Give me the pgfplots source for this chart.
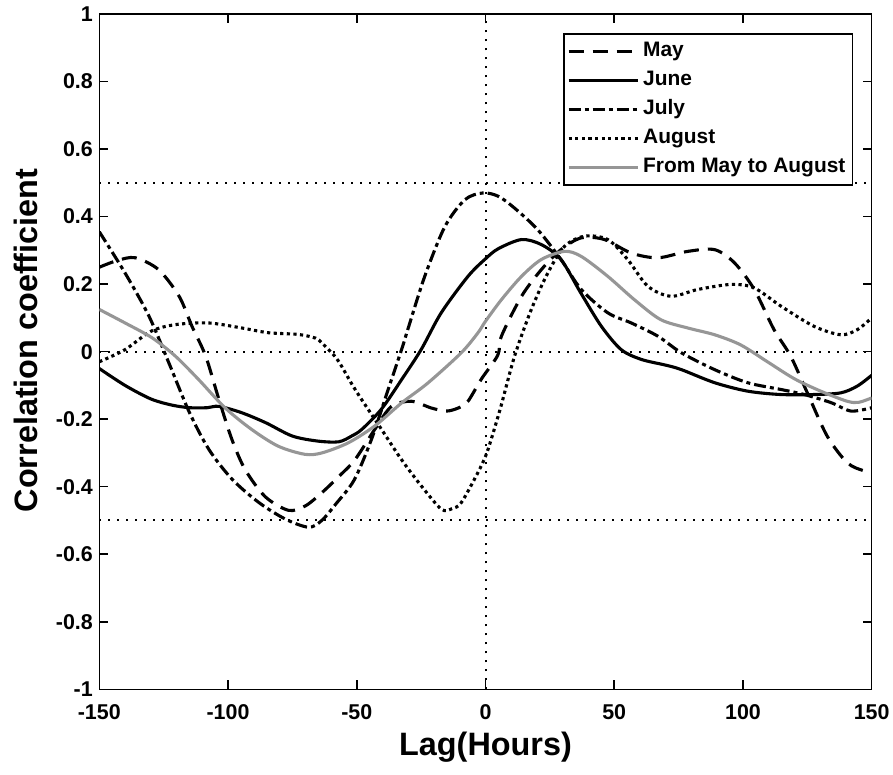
\documentclass[border=0pt]{standalone}
\usepackage{fontspec}
\setmainfont{Liberation Sans}
\usepackage{pgfplots}
\pgfplotsset{compat=1.18}
\definecolor{graycurve}{RGB}{150,150,150}

\pgfplotstableread{
x y
-150 0.25
-143 0.27
-136 0.278
-127 0.243
-119 0.164
-114 0.075
-108.7 -0.013
-103.6 -0.14
-98.5 -0.26
-93.3 -0.35
-85.5 -0.43
-76.5 -0.47
-70 -0.457
-63.6 -0.418
-57 -0.37
-50.7 -0.32
-43 -0.23
-36.5 -0.162
-28.8 -0.147
-21 -0.167
-15 -0.176
-10 -0.165
-6.8 -0.147
-1.5 -0.08
4.8 -0.01
6.2 0.046
14 0.164
21.7 0.243
29.3 0.302
37.2 0.337
46.2 0.332
56.6 0.292
67 0.278
78.6 0.297
89 0.302
96.7 0.263
104.4 0.184
112 0.066
118.5 -0.013
125 -0.122
132.7 -0.25
140.5 -0.329
147 -0.353
150 -0.355
}\maydata

\pgfplotstableread{
x y
-150 -0.05
-140 -0.10
-130 -0.14
-122 -0.158
-115 -0.166
-108 -0.166
-103.6 -0.162
-95 -0.18
-85.5 -0.21
-75 -0.25
-65 -0.265
-57 -0.267
-52 -0.25
-48 -0.23
-40.4 -0.17
-32.6 -0.083
-25 0.006
-17.2 0.115
-6.8 0.223
0 0.275
5 0.305
14 0.332
21.7 0.317
29.3 0.273
37 0.174
45 0.075
52.7 0.006
60.5 -0.023
70 -0.04
76 -0.053
89 -0.092
101.8 -0.117
114.7 -0.127
127.6 -0.127
138 -0.122
144.4 -0.102
150 -0.07
}\junedata

\pgfplotstableread{
x y
-150 0.355
-140 0.233
-130.7 0.105
-123 -0.033
-115 -0.18
-107.4 -0.29
-98.4 -0.378
-88 -0.447
-77.7 -0.496
-68.7 -0.52
-63.6 -0.50
-58 -0.45
-51 -0.38
-44.3 -0.26
-37.8 -0.112
-32.6 0.006
-30 0.07
-23.6 0.223
-15.8 0.37
-8 0.45
-1 0.47
5 0.46
11.3 0.425
20.3 0.361
29.3 0.273
37.2 0.184
47.5 0.115
56.6 0.085
66.9 0.046
76 -0.003
88.9 -0.053
101.8 -0.092
114.7 -0.112
123.8 -0.127
134.2 -0.151
142 -0.176
150 -0.166
}\julydata

\pgfplotstableread{
x y
-150 -0.03
-140 0.006
-130 0.06
-120.5 0.08
-107.6 0.085
-94.6 0.07
-84.3 0.056
-72.7 0.051
-66 0.04
-63.6 0.026
-58.6 -0.013
-55.9 -0.043
-52 -0.095
-48.1 -0.142
-40.4 -0.23
-32.6 -0.32
-24.9 -0.398
-17.1 -0.467
-13 -0.465
-9.4 -0.447
-3 -0.359
0 -0.31
2.2 -0.26
6 -0.162
11.3 -0.013
17.8 0.125
24.2 0.233
30.7 0.312
38.5 0.342
47.5 0.332
55.2 0.273
63 0.194
72 0.164
82.4 0.184
95.3 0.199
104.3 0.189
114.7 0.135
127.6 0.075
138 0.05
144.4 0.065
150 0.1
}\augdata

\pgfplotstableread{
x y
-150 0.125
-140 0.085
-129.5 0.041
-120.5 -0.013
-111.5 -0.082
-101.2 -0.166
-90.9 -0.23
-80.5 -0.28
-70.2 -0.304
-63.6 -0.30
-53.3 -0.27
-43 -0.22
-32.6 -0.152
-22.4 -0.093
-9.5 -0.004
-3 0.055
0 0.09
6.2 0.154
14 0.223
21.7 0.273
30.7 0.297
37.2 0.282
47.5 0.223
57.8 0.154
68 0.095
78.6 0.07
89 0.05
99.1 0.02
109.5 -0.03
119.9 -0.08
130.2 -0.117
140.5 -0.147
145 -0.15
150 -0.137
}\alldata

\begin{document}
\begin{tikzpicture}
\begin{axis}[
  name=ax,
  scale only axis,
  width=772.4bp, height=675.3bp,
  xmin=-150, xmax=150, ymin=-1, ymax=1,
  xtick={-150,-100,-50,0,50,100,150},
  xticklabels={-150,-100,-50,0,50,100,150},
  ytick={-1,-0.8,-0.6,-0.4,-0.2,0,0.2,0.4,0.6,0.8,1},
  yticklabels={-1,-0.8,-0.6,-0.4,-0.2,0,0.2,0.4,0.6,0.8,1},
  tick align=inside,
  major tick length=9bp,
  axis line style={line width=1.5bp},
  every tick/.style={black, line width=1.5bp},
  tick label style={font=\fontsize{21.5}{24}\selectfont\bfseries},
  xticklabel style={yshift=-12bp},
  yticklabel style={xshift=-3bp},
  xlabel={Lag(Hours)},
  ylabel={Correlation coefficient},
  every axis x label/.style={at={(axis description cs:0.5,-0.0973)}, anchor=base, font=\fontsize{32.5}{38}\selectfont\bfseries},
  every axis y label/.style={at={(axis description cs:-0.080,0.5165)}, anchor=base, rotate=90, font=\fontsize{32.5}{38}\selectfont\bfseries},
  legend style={at={(axis description cs:0.976,0.9714)}, anchor=north east,
    draw=black, line width=1.5bp, fill=white,
    font=\fontsize{21}{24}\selectfont\bfseries,
    inner xsep=3bp, inner ysep=3bp, row sep=0pt,
    nodes={text height=15bp, text depth=5bp, inner ysep=4.5bp, inner xsep=4bp}},
  legend cell align=left,
  legend image code/.code={\draw[#1] (0bp,0bp) -- (69bp,0bp);},
]
\addplot[forget plot, black, line width=2bp, dash pattern=on 2bp off 7bp] coordinates {(-150,0.5) (150,0.5)};
\addplot[forget plot, black, line width=2bp, dash pattern=on 2bp off 7bp] coordinates {(-150,0) (150,0)};
\addplot[forget plot, black, line width=2bp, dash pattern=on 2bp off 7bp] coordinates {(-150,-0.5) (150,-0.5)};
\addplot[forget plot, black, line width=2bp, dash pattern=on 2bp off 7bp] coordinates {(0,-1) (0,1)};

\addplot[black, line width=3.1bp, smooth, tension=0.5, dash pattern=on 15bp off 9bp] table {\maydata};
\addlegendentry{May}
\addplot[black, line width=3.1bp, smooth, tension=0.5] table {\junedata};
\addlegendentry{June}
\addplot[black, line width=3.1bp, smooth, tension=0.5, dash pattern=on 12bp off 4bp on 4bp off 4bp] table {\julydata};
\addlegendentry{July}
\addplot[black, line width=3.1bp, smooth, tension=0.5, dash pattern=on 3.2bp off 3.4bp] table {\augdata};
\addlegendentry{August}
\addplot[graycurve, line width=3.1bp, smooth, tension=0.5] table {\alldata};
\addlegendentry{From May to August}
\end{axis}
\pgfresetboundingbox
\path[use as bounding box] ([xshift=-99.3bp,yshift=-85.7bp]ax.south west) rectangle ([xshift=21.3bp,yshift=14bp]ax.north east);
\end{tikzpicture}
\end{document}
